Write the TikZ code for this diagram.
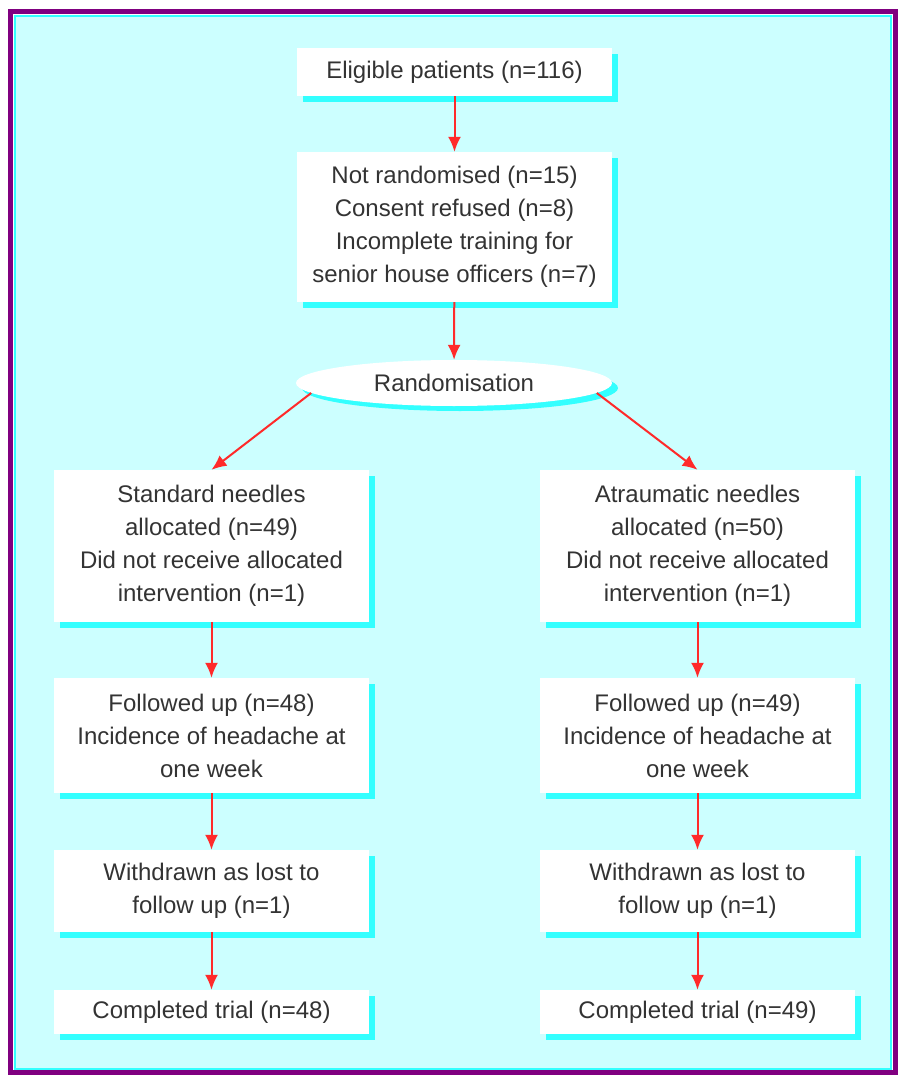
\documentclass[tikz,border=0pt]{standalone}
\usepackage{fontspec}
\setmainfont{Liberation Sans}
\usetikzlibrary{positioning,arrows,arrows.meta,calc,shapes,shadows}
\definecolor{panelcyan}{HTML}{CCFFFF}
\definecolor{shadecyan}{HTML}{33FFFF}
\definecolor{framepurple}{HTML}{800080}
\definecolor{arrowred}{HTML}{FF2A2A}
\tikzset{
    x=1pt,
    y=-1pt,
    stage/.style = {
        shape=rectangle,
        fill=white,
        minimum width=315pt,
        inner sep=0pt,
        align=center,
        text=black!80,
        font=\fontsize{24}{33}\selectfont,
        drop shadow={shadow xshift=6pt, shadow yshift=-6pt, fill=shadecyan, opacity=1}
    },
    split/.style = {
        shape=ellipse,
        fill=white,
        minimum width=316pt,
        minimum height=46pt,
        inner sep=0pt,
        text=black!80,
        font=\fontsize{24}{33}\selectfont,
        drop shadow={shadow xshift=6pt, shadow yshift=-5pt, fill=shadecyan, opacity=1}
    },
    flow/.style = {
        draw=arrowred,
        line width=2pt
    },
    >={Latex[length=15pt,width=13pt]},
}
\begin{document}
\begin{tikzpicture}
            \useasboundingbox (0,0) rectangle (898,1075);
            \path[fill=white] (0,0) rectangle (898,1075);
            \path[fill=panelcyan, draw=shadecyan, line width=2pt] (14.5,16) rectangle (891,1068.5);
            \path[draw=framepurple, line width=5pt] (10.5,12) rectangle (895,1072.5);

            \node[stage, minimum height=48pt] (elig) at (454.5,72) {Eligible patients (n=116)};
            \node[stage, minimum height=150pt] (notrand) at (454.5,227) {Not randomised (n=15)\\Consent refused (n=8)\\Incomplete training for\\senior house officers (n=7)};
            \node[split] (rand) at (454,383) {Randomisation};

            \node[stage, minimum height=152pt] (stdalloc) at (211.5,546) {Standard needles\\allocated (n=49)\\Did not receive allocated\\intervention (n=1)};
            \node[stage, minimum height=115pt] (stdfollow) at (211.5,735.5) {Followed up (n=48)\\Incidence of headache at\\one week};
            \node[stage, minimum height=82pt] (stdlost) at (211.5,891) {Withdrawn as lost to\\follow up (n=1)};
            \node[stage, minimum height=44pt] (stddone) at (211.5,1012) {Completed trial (n=48)};

            \node[stage, minimum height=152pt] (atralloc) at (697.5,546) {Atraumatic needles\\allocated (n=50)\\Did not receive allocated\\intervention (n=1)};
            \node[stage, minimum height=115pt] (atrfollow) at (697.5,735.5) {Followed up (n=49)\\Incidence of headache at\\one week};
            \node[stage, minimum height=82pt] (atrlost) at (697.5,891) {Withdrawn as lost to\\follow up (n=1)};
            \node[stage, minimum height=44pt] (atrdone) at (697.5,1012) {Completed trial (n=49)};

            \path[flow, ->] (elig) -- (notrand);
            \path[flow, ->] (notrand) -- (rand);

            \path[flow, ->] (rand.184) -- (stdalloc.north);
            \path[flow, ->] (rand.356) -- (atralloc.north);

            \path[flow, ->] (stdalloc) -- (stdfollow);
            \path[flow, ->] (stdfollow) -- (stdlost);
            \path[flow, ->] (stdlost) -- (stddone);

            \path[flow, ->] (atralloc) -- (atrfollow);
            \path[flow, ->] (atrfollow) -- (atrlost);
            \path[flow, ->] (atrlost) -- (atrdone);

        \end{tikzpicture}
\end{document}
